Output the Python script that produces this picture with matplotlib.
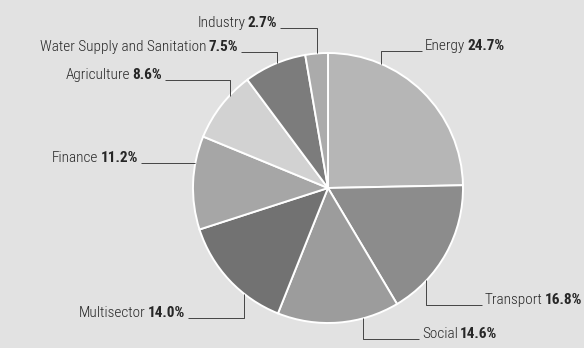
import numpy as np
import matplotlib
matplotlib.use("Agg")
import matplotlib.pyplot as plt

# Share of total commitments by sector
sectors = ["Energy", "Transport", "Social", "Multisector", "Finance",
           "Agriculture", "Water Supply and Sanitation", "Industry"]
shares = [24.7, 16.8, 14.6, 14.0, 11.2, 8.6, 7.5, 2.7]
share_labels = [f"{v:.1f}%" for v in shares]

colors = ["#b6b6b6", "#8c8c8c", "#9c9c9c", "#727272",
          "#a6a6a6", "#d2d2d2", "#7c7c7c", "#ababab"]
bg = "#e2e2e2"
ink = "#262626"
line_col = "#444444"

# Label layout (pixel space, origin top-left):
# angle where the leader leaves the rim (degrees clockwise from 12 o'clock),
# which side the text sits on, text edge x, leader line y
attach_deg = [23.1, 133.2, 165.1, 218.5, 280.6, 313.2, 337.9, 355.3]
text_side = ["right", "right", "right", "left", "left", "left", "left", "left"]
text_x = [425, 485, 422, 185, 138, 162, 238, 277]
leader_y = [51, 305, 339, 318, 163, 80, 52, 28]

W, H = 584, 348
cx, cy, r = 328, 188, 135

fig = plt.figure(figsize=(W / 100, H / 100), dpi=100)
fig.patch.set_facecolor(bg)
ax = fig.add_axes([0, 0, 1, 1])


def fy(y):
    """pixel row (top-down) -> data y (bottom-up)"""
    return H - y


ax.pie(shares, colors=colors, startangle=90, counterclock=False,
       center=(cx, fy(cy)), radius=r,
       wedgeprops=dict(edgecolor="white", linewidth=1.4))
ax.set_xlim(0, W)
ax.set_ylim(0, H)
ax.set_aspect("equal")
ax.axis("off")

font = ["Roboto Condensed", "Roboto", "DejaVu Sans"]
fs = 11
gap = 3
word_gap = 1.5  # points between sector name and its share

for name, pct, ang, side, tx, ly in zip(sectors, share_labels, attach_deg,
                                        text_side, text_x, leader_y):
    t = np.deg2rad(ang)
    px = cx + r * np.sin(t)
    py = cy - r * np.cos(t)
    end_x = tx - gap if side == "right" else tx + gap
    ax.plot([px, px, end_x], [fy(py), fy(ly), fy(ly)],
            color=line_col, lw=0.7, solid_capstyle="butt", zorder=3)
    base = fy(ly - 1)
    if side == "right":
        t1 = ax.text(tx, base, name, ha="left", va="baseline",
                     fontsize=fs, family=font, color=ink, fontweight="light")
        ax.annotate(pct, xy=(1, 0), xycoords=t1, xytext=(word_gap, 0),
                    textcoords="offset points", ha="left", va="bottom",
                    fontsize=fs, family=font, color=ink, fontweight="bold")
    else:
        t1 = ax.text(tx, base, pct, ha="right", va="baseline",
                     fontsize=fs, family=font, color=ink, fontweight="bold")
        ax.annotate(name, xy=(0, 0), xycoords=t1, xytext=(-word_gap, 0),
                    textcoords="offset points", ha="right", va="bottom",
                    fontsize=fs, family=font, color=ink, fontweight="light")

fig.savefig("out.png", dpi=100, facecolor=bg)
